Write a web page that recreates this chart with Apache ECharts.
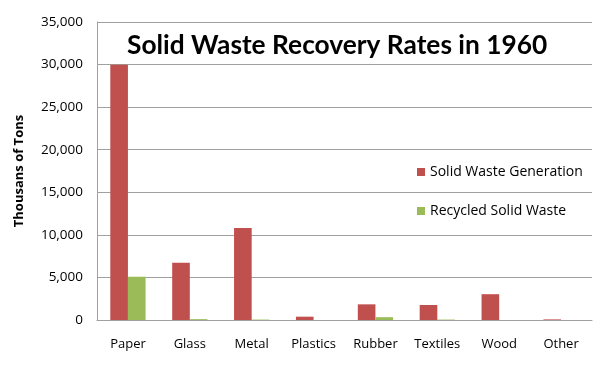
<!DOCTYPE html>
<html>
<head>
<meta charset="utf-8">
<script src="https://cdn.jsdelivr.net/npm/echarts@6/dist/echarts.min.js"></script>
<style>html,body{margin:0;padding:0;background:#fff;}#c{width:604px;height:366px;}</style>
</head>
<body>
<div id="c"></div>
<script>
const categories = ['Paper', 'Glass', 'Metal', 'Plastics', 'Rubber', 'Textiles', 'Wood', 'Other'];
const generation = [29990, 6720, 10820, 390, 1840, 1760, 3030, 70];
const recycled = [5080, 100, 50, 0, 330, 50, 0, 0];
const yTicks = { min: 0, max: 35000, interval: 5000 };

const FONT = 'Open Sans';
const chart = echarts.init(document.getElementById('c'));
chart.setOption({
  animation: false,
  backgroundColor: '#fff',
  title: {
    text: 'Solid Waste Recovery Rates in 1960',
    left: 122, top: 28,
    textStyle: { fontFamily: 'Lato', fontWeight: 'bold', fontSize: 26.3, color: '#000' }
  },
  legend: {
    orient: 'vertical', left: 412, top: 160, itemGap: 25,
    itemWidth: 8, itemHeight: 8, icon: 'rect',
    textStyle: { fontFamily: FONT, fontSize: 14, color: '#000' }
  },
  grid: { left: 97, right: 12, top: 22, bottom: 46 },
  xAxis: {
    type: 'category', data: categories,
    axisLine: { lineStyle: { color: '#a0a0a0' } },
    axisTick: { length: 5, lineStyle: { color: '#a0a0a0' } },
    axisLabel: { fontFamily: FONT, fontSize: 13, color: '#000', margin: 18 }
  },
  yAxis: {
    type: 'value', min: yTicks.min, max: yTicks.max, interval: yTicks.interval,
    name: 'Thousans of Tons', nameLocation: 'middle', nameGap: 71,
    nameTextStyle: { fontFamily: FONT, fontWeight: 'bold', fontSize: 13, color: '#000' },
    axisLine: { show: true, lineStyle: { color: '#a0a0a0' } },
    axisTick: { show: false },
    splitLine: { lineStyle: { color: '#a0a0a0' } },
    axisLabel: { fontFamily: FONT, fontSize: 13.5, color: '#000', margin: 14,
      formatter: v => v.toLocaleString('en-US') }
  },
  series: [
    { name: 'Solid Waste Generation', type: 'bar', data: generation,
      itemStyle: { color: '#C0504D' }, barGap: '0%', barCategoryGap: '43%' },
    { name: 'Recycled Solid Waste', type: 'bar', data: recycled,
      itemStyle: { color: '#9BBB59' }, barGap: '0%', barCategoryGap: '43%' }
  ]
});
</script>
</body>
</html>
